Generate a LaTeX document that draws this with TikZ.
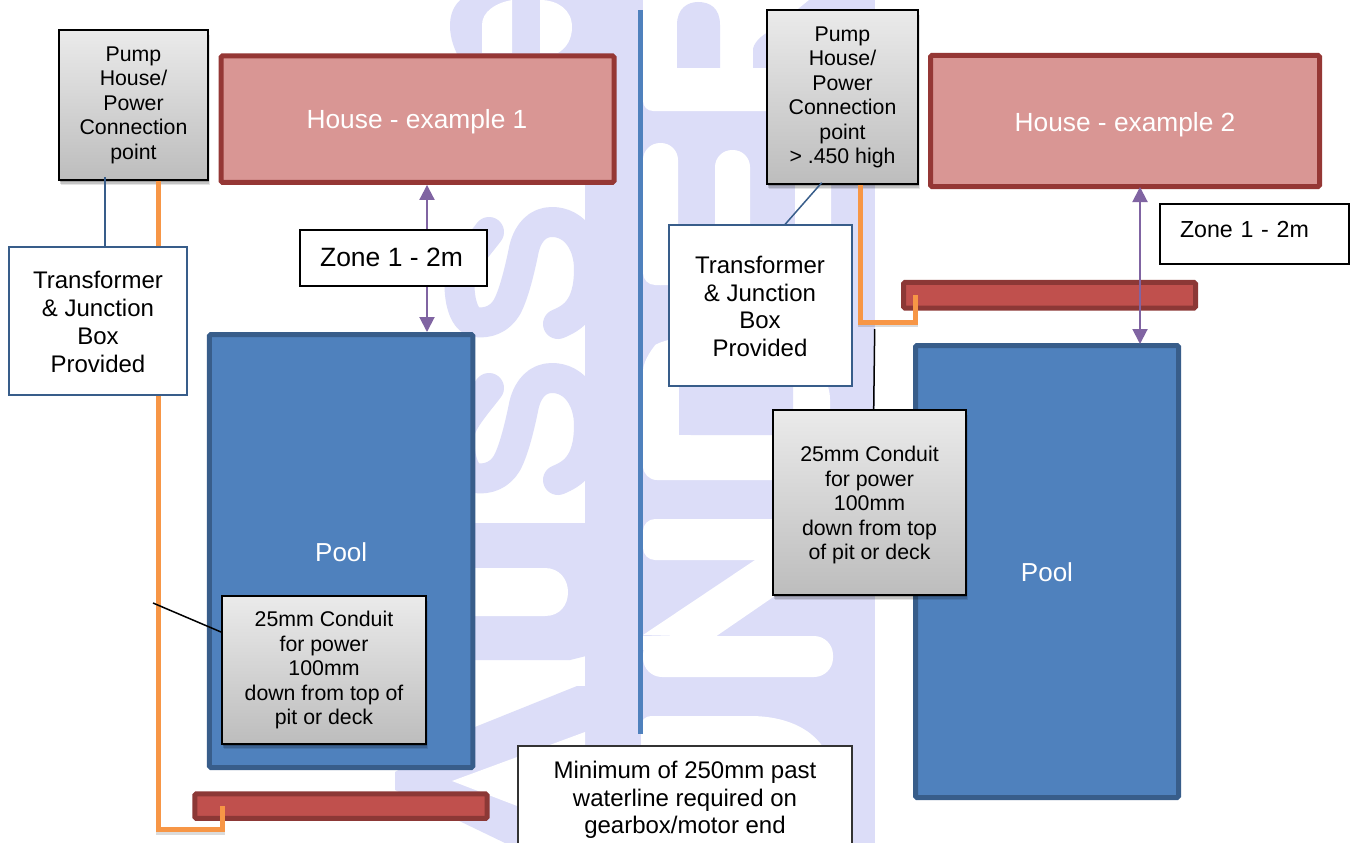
\documentclass[tikz,border=0pt]{standalone}
\usepackage{fontspec}
\setmainfont{Liberation Sans}
\usetikzlibrary{arrows.meta,shadows}
\definecolor{wm}{HTML}{DCDDF8}
\definecolor{housefill}{HTML}{D99694}
\definecolor{houseline}{HTML}{953735}
\definecolor{poolfill}{HTML}{4F81BD}
\definecolor{poolline}{HTML}{385D8A}
\definecolor{barfill}{HTML}{C0504D}
\definecolor{barline}{HTML}{8C3836}
\definecolor{conduit}{HTML}{F79646}
\definecolor{zonearrow}{HTML}{8064A2}
\newcommand{\lowered}[2]{\raisebox{#1}[0pt][0pt]{#2}}
\tikzset{
  sz/.style n args={2}{font=\fontsize{#1}{#2}\selectfont},
  softshadow/.style={
    preaction={fill=black,draw=none,opacity=.10,transform canvas={xshift=1.5pt,yshift=-5pt}},
    preaction={fill=black,draw=none,opacity=.14,transform canvas={xshift=1pt,yshift=-3.5pt}},
    preaction={fill=black,draw=none,opacity=.18,transform canvas={xshift=.5pt,yshift=-2pt}}},
  greybox/.style={softshadow,draw=black,line width=2pt,top color=black!8,bottom color=black!26,inner sep=0pt,align=center,sz={21.3}{24.5}},
  housebox/.style={draw=houseline,fill=housefill,line width=5pt,rounded corners=1.5pt,text=white,inner sep=0pt,sz={26.3}{30}},
  poolbox/.style={draw=poolline,fill=poolfill,line width=5pt,rounded corners=1.5pt,text=white,inner sep=0pt,sz={26}{30}},
  barbox/.style={draw=barline,fill=barfill,line width=5pt,rounded corners=1.5pt,inner sep=0pt},
  transbox/.style={draw=poolline,fill=white,line width=2pt,inner sep=0pt,align=center,sz={24}{27.8}},
  zonebox/.style={draw=black,fill=white,line width=2pt,inner sep=0pt},
  orangeline/.style={draw=conduit,line width=5pt,line join=miter,
    preaction={draw=black,opacity=.14,line width=5pt,transform canvas={yshift=-2.5pt}}},
  zonespan/.style={draw=zonearrow,line width=2pt,{Triangle[width=15pt,length=15pt]}-{Triangle[width=15pt,length=15pt]}},
  bluelink/.style={draw=poolline,line width=1.5pt},
  blacklink/.style={draw=black,line width=1.5pt},
}
\begin{document}
\begin{tikzpicture}[x=1pt,y=-1pt]
\useasboundingbox (0,0) rectangle (1352,843);
\fill[white] (0,0) rectangle (1352,843);
% ---- watermark: lavender field
\fill[wm] (585,0) rectangle (875,843);
% right column: white letters knocked out
\fill[white,rounded corners=10pt] (643,-20) -- (790,-20) -- (790,111) -- (643,111) -- cycle;
\fill[white] (643,-5) rectangle (660,60);
\fill[white] (790,-5) -- (815,-5) -- (766,35) -- (790,100) -- cycle;
\fill[wm] (677,68) -- (677,25) .. controls (677,8) and (688,2) .. (698,2) .. controls (710,2) and (720,8) .. (720,25) -- (720,68) -- cycle;
\fill[wm] (753,68) -- (753,50) .. controls (753,44) and (760,36) .. (770,31) -- (770,68) -- cycle;
% E
\fill[white,rounded corners=17pt] (643,143) rectangle (678,285);
\fill[white,rounded corners=17pt] (715,150) rectangle (750,285);
\fill[white,rounded corners=17pt] (795,150) rectangle (831,285);
\fill[white,rounded corners=12pt] (643,250) rectangle (831,285);
% D
\fill[white,rounded corners=14pt] (643,480) -- (643,385) .. controls (643,360) and (655,345) .. (668,338) -- (800,338) -- (830,385) -- (830,480) -- cycle;
\fill[wm,rounded corners=12pt] (679,435) -- (679,345) -- (793,345) -- (793,435) -- cycle;
\fill[wm] (679,420) rectangle (793,435);
% N
\fill[white,rounded corners=12pt] (643,519) rectangle (833,560);
\fill[white] (643,635) -- (758,558) -- (833,556) -- (715,637) -- cycle;
\fill[white,rounded corners=19pt] (643,636) rectangle (833,677);
\fill[white] (643,636) rectangle (700,650);
% bottom letter
\fill[white,rounded corners=10pt] (641,716) -- (700,716) -- (700,860) -- (641,860) -- cycle;
\fill[white] (680,716) -- (750,716) .. controls (785,716) and (810,728) .. (823,747) -- (823,860) -- (680,860) -- cycle;
% left column
\fill[wm] (450,25) .. controls (450,10) and (458,0) .. (465,-3) -- (590,-3) -- (590,60) -- (460,60) .. controls (455,50) and (450,40) .. (450,25) -- cycle;
\fill[white] (482,53) -- (482,25) .. controls (482,12) and (495,3) .. (512,0) -- (512,53) -- cycle;
\fill[white] (540,0) .. controls (558,0) and (572,10) .. (572,27) .. controls (572,40) and (566,48) .. (558,53) -- (540,53) -- cycle;
\foreach \dy in {0,156}{
  \draw[wm,line width=30pt,line cap=round,line join=round,yshift=\dy pt]
    (558,480) .. controls (572,474) and (589,465) .. (589,425)
    .. controls (589,400) and (575,378) .. (552,378)
    .. controls (538,378) and (528,388) .. (524,405)
    .. controls (520,425) and (514,450) .. (507,463)
    .. controls (500,475) and (488,480) .. (475,478)
    .. controls (462,475) and (458,450) .. (460,432)
    .. controls (462,420) and (480,400) .. (489,388);
}
\fill[wm] (470,523) -- (590,523) -- (590,655) -- (570,660) -- (470,660) -- cycle;
\fill[white] (470,568) -- (545,568) .. controls (560,568) and (568,580) .. (568,592) .. controls (568,605) and (560,616) .. (545,616) -- (470,616) -- cycle;
\fill[wm] (470,729) -- (577,686) -- (590,686) -- (590,843) -- (505,843) -- (395,790) -- (395,772) -- cycle;
\fill[white] (452,781) -- (585,732) -- (585,832) -- cycle;
% ---- divider
\fill[poolfill] (637.5,10) rectangle (643,734);
% ---- shapes
\node[poolbox,minimum width=263.5pt,minimum height=433pt] (poolA) at (341.2,551) {\lowered{-10.3pt}{Pool}};
\node[poolbox,minimum width=263pt,minimum height=452pt] (poolB) at (1047,571.5) {\lowered{-9.5pt}{Pool}};
\node[housebox,minimum width=393pt,minimum height=126.5pt] (houseA) at (417.5,119.2) {\hspace*{-1pt}\lowered{-9.8pt}{House - example 1}};
\node[housebox,minimum width=389pt,minimum height=131pt] (houseB) at (1125,121) {\lowered{-10pt}{House - example 2}};
\node[barbox,minimum width=292.2pt,minimum height=24.5pt] (barA) at (340.9,806.2) {};
\node[barbox,minimum width=292pt,minimum height=25.7pt] (barB) at (1049.5,295.3) {};
\node[greybox,minimum width=149pt,minimum height=150pt] (pumpA) at (133.5,105) {Pump\\House/\\Power\\Connection\\point};
\node[greybox,minimum width=151pt,minimum height=174.5pt] (pumpB) at (842.5,97.2) {Pump\\House/\\Power\\Connection\\point\\> .450 high};
% orange conduits
\path[orangeline] (158,0 |- pumpA.south) -- (158,829.5) -- (222,829.5) -- (222,0 |- barA.center);
\path[orangeline] (860,0 |- pumpB.south) -- (860,322) -- (915,322) -- (915,0 |- barB.center);
% boxes and links
\node[transbox,minimum width=178pt,minimum height=148.5pt] (transA) at (98,321) {\rule{0pt}{19pt}Transformer\\\& Junction\\Box\\Provided};
\node[transbox,minimum width=183pt,minimum height=160.5pt] (transB) at (760,305.7) {\rule{0pt}{19pt}Transformer\\\& Junction\\Box\\Provided};
\draw[bluelink] (105,177) -- (105,0 |- transA.north);
\draw[bluelink] (821.7,182.7) -- (785,0 |- transB.north);
\node[greybox,minimum width=204pt,minimum height=148pt] (condA) at (324,670) {25mm Conduit\\for power\\100mm\\down from top of\\pit or deck};
\node[greybox,minimum width=193pt,minimum height=185pt] (condB) at (869.5,502.5) {\rule{0pt}{21.3pt}25mm Conduit\\for power\\100mm\\down from top\\of pit or deck};
\coordinate (tailA) at (153,603);
\coordinate (tailB) at (874.7,329);
\draw[blacklink] (tailA) -- (condA.west |- 0,632);
\draw[blacklink] (tailB) -- (873.7,0 |- condB.north);
% zones
\draw[zonespan] (427,0 |- houseA.south) -- (427,0 |- poolA.north);
\draw[zonespan,shorten <=-2pt,shorten >=-1pt] (1140,0 |- houseB.south) -- (1140,0 |- poolB.north);
\node[zonebox,minimum width=187pt,minimum height=56pt,sz={26.5}{30}] (zoneA) at (393.5,258) {\hspace*{-4pt}\lowered{-8.5pt}{Zone 1 - 2m}};
\node[zonebox,minimum width=189pt,minimum height=60pt,sz={23.2}{28},text width=170pt,align=left] (zoneB) at (1254,234) {\hspace*{11pt}\lowered{-3.5pt}{Zone 1 - 2m}};
\node[draw=black!80,fill=white,line width=1.5pt,inner sep=0pt,align=center,sz={24}{27.6},minimum width=334pt,minimum height=108pt] (minbox) at (685,800) {Minimum of 250mm past\\waterline required on\\gearbox/motor end};
\end{tikzpicture}
\end{document}
